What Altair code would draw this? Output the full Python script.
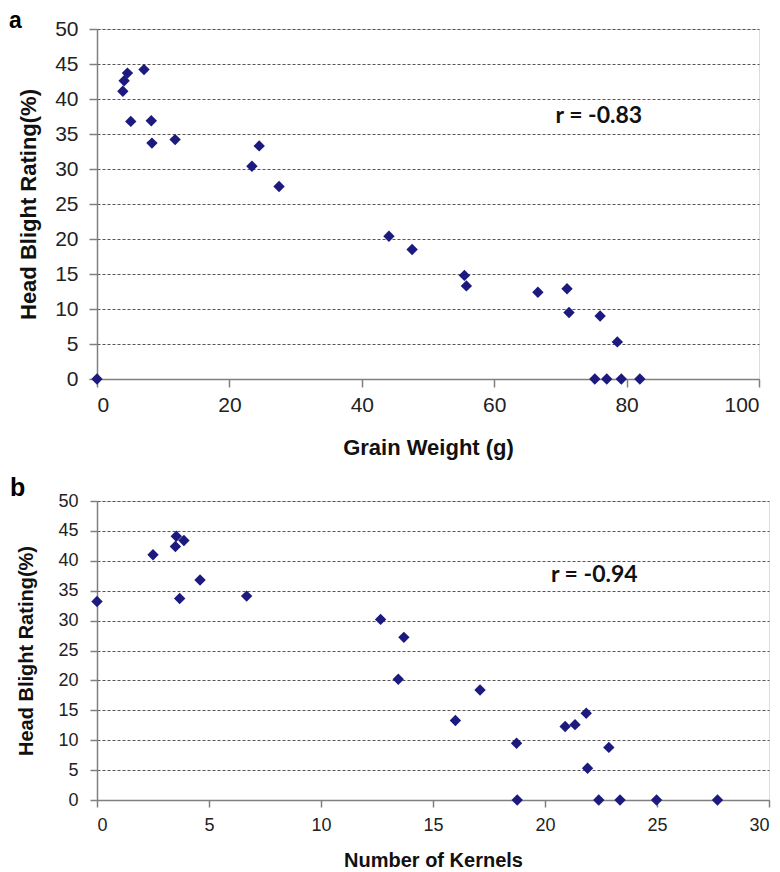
import altair as alt
import pandas as pd

# Panel a: grain weight vs head blight rating
grain_weight = [0, 3.9, 4.1, 4.6, 7.1, 5.1, 8.2, 8.3, 11.8, 23.4, 24.5, 27.5, 44.1,
                47.6, 55.5, 55.8, 66.6, 71.0, 71.3, 76.0, 78.6, 75.2, 77.0, 79.2, 82.0]
rating_a = [0, 41.1, 42.6, 43.7, 44.2, 36.8, 36.9, 33.7, 34.2, 30.4, 33.3, 27.5, 20.4,
            18.5, 14.8, 13.3, 12.4, 12.9, 9.5, 9.0, 5.3, 0, 0, 0, 0]

# Panel b: number of kernels vs head blight rating
kernels = [0, 2.5, 3.54, 3.5, 3.88, 4.6, 3.69, 6.68, 12.66, 13.45, 13.7, 17.1, 16.0,
           18.73, 18.76, 20.9, 21.34, 21.84, 22.85, 21.9, 22.4, 23.35, 24.98, 27.7]
rating_b = [33.2, 41.0, 44.1, 42.4, 43.4, 36.8, 33.7, 34.1, 30.2, 20.2, 27.2, 18.4, 13.3,
            9.5, 0, 12.3, 12.6, 14.5, 8.8, 5.3, 0, 0, 0, 0]

# Annotations
r_text = ["r = -0.83", "r = -0.94"]
r_x = [75.8, 22.2]
r_y = [37.6, 37.6]
panel_labels = ["a", "b"]

y_ticks = list(range(0, 51, 5))
xa_ticks = list(range(0, 101, 20))
xb_ticks = list(range(0, 31, 5))

NAVY = "#1c1a7e"
AXC = "#808080"


def panel(xvals, yvals, xtitle, xdomain, xticks, rt, rx, ry, lab, w, h,
          lab_fs, title_fs, tick_size, lab_pad_x, lab_pad_y, tpad_x, tpad_y,
          lab_dx, lab_dy, lab_size):
    df = pd.DataFrame({"xv": xvals, "yv": yvals})
    xaxis = alt.Axis(values=xticks, tickCount=len(xticks), grid=False, domainColor=AXC,
                     domainWidth=1.5, tickColor=AXC, tickWidth=1.5, tickSize=tick_size,
                     labelOverlap=False, labelFont="Liberation Sans", labelFontSize=lab_fs,
                     labelColor="#222", labelPadding=lab_pad_x, title=xtitle,
                     titleFont="Liberation Sans", titleFontSize=title_fs,
                     titleFontWeight="bold", titleColor="#111", titlePadding=tpad_x)
    yaxis = alt.Axis(values=y_ticks, tickCount=len(y_ticks), grid=True, gridDash=[3, 2],
                     gridColor="#555", gridWidth=1, domainColor=AXC, domainWidth=1.5,
                     tickColor=AXC, tickWidth=1.5, tickSize=tick_size, labelOverlap=False,
                     labelFont="Liberation Sans", labelFontSize=lab_fs, labelColor="#222",
                     labelPadding=lab_pad_y, title="Head Blight Rating(%)",
                     titleFont="Liberation Sans", titleFontSize=title_fs,
                     titleFontWeight="bold", titleColor="#111", titlePadding=tpad_y)
    xenc = alt.X("xv:Q", scale=alt.Scale(domain=xdomain, nice=False, zero=False), axis=xaxis)
    yenc = alt.Y("yv:Q", scale=alt.Scale(domain=[0, 50], nice=False), axis=yaxis)
    pts = alt.Chart(df).mark_point(shape="diamond", filled=True, size=130, color=NAVY,
                                   opacity=1).encode(x=xenc, y=yenc)
    ann_df = pd.DataFrame({"xv": [rx], "yv": [ry], "t": [rt]})
    ann = alt.Chart(ann_df).mark_text(font="Lato", fontWeight="bold", fontSize=23,
                                      color="#111").encode(x="xv:Q", y="yv:Q", text="t:N")
    lab_df = pd.DataFrame({"t": [lab]})
    labm = alt.Chart(lab_df).mark_text(font="Liberation Sans", fontWeight="bold",
                                       fontSize=lab_size, align="left", baseline="alphabetic",
                                       color="#000").encode(
        x=alt.value(lab_dx), y=alt.value(lab_dy), text="t:N")
    return alt.layer(pts, ann, labm).properties(width=w, height=h)


pa = panel(grain_weight, rating_a, "Grain Weight (g)", [0, 100], xa_ticks,
           r_text[0], r_x[0], r_y[0], panel_labels[0], 662, 350,
           21, 22, 8, 7, 11, 22, 14, -88, -1, 23)
pb = panel(kernels, rating_b, "Number of Kernels", [0, 30], xb_ticks,
           r_text[1], r_x[1], r_y[1], panel_labels[1], 672, 299,
           18, 20, 7, 9, 12, 16, 21, -87, -5, 25)

chart = alt.vconcat(pa, pb, spacing=16).properties(
    padding={"top": 1, "left": 0, "right": 0, "bottom": 0}
).configure_view(stroke="#a0a0a0", strokeWidth=1.5).configure(background="white")

chart.save("out.html", embed_options={"renderer": "svg", "actions": False})
